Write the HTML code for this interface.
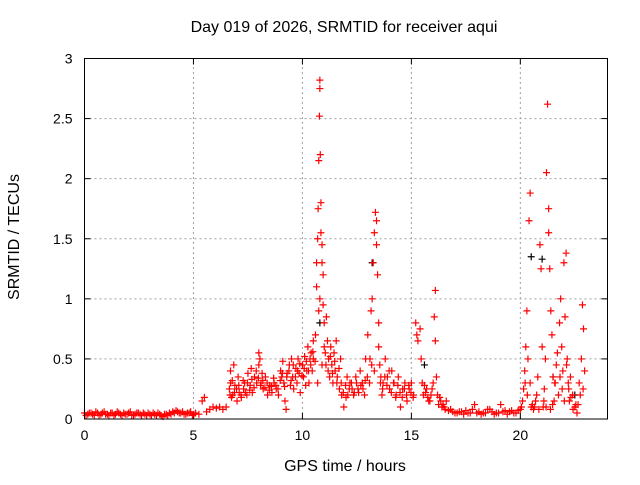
<!DOCTYPE html>
<html><head><meta charset="utf-8"><style>
body{margin:0;background:#fff;}
svg text{font-family:"Liberation Sans",sans-serif;font-size:14px;fill:#000;}
svg text.big{font-size:16px;}
</style></head><body>
<svg id="chart" width="640" height="480">
<text class="big" x="344" y="32" text-anchor="middle">Day 019 of 2026, SRMTID for receiver aqui</text>
<text class="big" x="345" y="471" text-anchor="middle">GPS time / hours</text>
<text class="big" transform="translate(19,237) rotate(-90)" text-anchor="middle">SRMTID / TECUs</text>
<g id="grid"></g><g id="ticks"></g><g id="marks"></g>
<rect x="84.5" y="58.5" width="523" height="360.5" fill="none" stroke="#000"/>
</svg>
<script>
const xTicks=[0,5,10,15,20];
const yTicks=[0,0.5,1,1.5,2,2.5,3];
const yTickLabels=["0","0.5","1","1.5","2","2.5","3"];
const hours=[0,.15,.3,.45,.6,.75,.9,1.05,1.2,1.35,1.5,1.65,1.8,1.95,2.1,2.25,2.4,2.55,2.7,2.85,3.0,3.15,3.3,3.45,3.6,3.75,3.9,4.05,4.2,4.35,4.5,4.65,4.8,4.95,5.1,5.25,5.4,5.5,5.6,5.75,5.9,6.05,6.2,6.35,6.5,
6.65,6.7,6.7,6.75,6.8,6.85,6.9,7.0,7.05,7.1,7.2,7.3,7.35,7.45,7.5,7.6,7.65,7.7,7.8,7.9,8.0,8.0,8.05,8.1,8.15,8.2,8.3,8.4,8.5,8.6,8.7,8.8,8.9,9.0,9.05,9.1,9.15,9.2,9.25,9.3,9.4,9.45,9.5,9.55,9.6,9.7,9.75,9.8,9.85,9.9,10.0,10.05,10.1,10.15,10.2,10.25,10.3,10.35,10.4,10.45,10.5,10.5,
10.6,10.65,10.65,10.7,10.72,10.75,10.78,10.8,10.8,10.82,10.85,10.85,10.8,10.75,10.9,10.9,10.95,10.95,11.0,11.0,10.7,10.9,11.05,11.1,11.15,11.2,11.25,11.3,11.35,11.4,11.45,11.5,11.55,11.6,11.7,11.75,11.8,11.9,12.0,12.05,12.15,12.25,12.35,12.45,12.55,12.65,12.75,12.85,12.9,
13.0,13.1,13.15,13.2,13.25,13.3,13.35,13.4,13.4,13.45,13.5,13.5,13.3,13.55,13.6,13.65,13.7,13.8,13.9,14.0,14.1,14.2,14.3,14.4,14.5,14.6,14.7,14.8,14.9,15.0,15.1,15.2,15.25,15.3,15.4,15.45,15.5,15.55,15.7,15.8,15.9,16.0,16.05,16.1,16.1,16.15,16.2,16.35,16.5,16.6,16.8,17.0,17.2,17.4,17.6,17.8,17.9,18.0,18.2,18.4,18.6,18.8,19.0,19.1,19.2,19.4,19.6,19.8,20.0,
20.1,20.15,20.2,20.25,20.3,20.35,20.4,20.45,20.45,20.5,20.6,20.7,20.8,20.9,20.95,21.0,21.05,21.1,21.15,21.2,21.25,21.3,21.3,21.35,21.4,21.45,21.5,21.55,21.6,21.7,21.8,21.85,21.9,21.95,22.0,22.05,22.1,22.15,22.2,22.25,22.3,22.4,22.5,22.6,22.7,22.8,22.85,22.9,22.95,
0.07,0.22,0.37,0.52,0.67,0.82,0.97,1.12,1.27,1.42,1.57,1.72,1.87,2.02,2.17,2.32,2.47,2.62,2.77,2.92,3.07,3.22,3.37,3.52,3.67,3.82,3.97,4.12,4.27,4.42,4.57,4.72,4.87,5.02,
6.68,6.78,6.88,6.98,7.08,7.18,7.28,7.38,7.48,7.58,7.68,7.78,7.88,7.98,8.08,8.18,8.28,8.38,8.48,8.58,8.68,8.78,8.88,8.98,9.08,9.18,9.28,9.38,9.48,9.58,9.68,9.78,9.88,9.98,10.08,10.18,10.28,10.38,10.48,10.58,
11.08,11.18,11.28,11.38,11.48,11.58,11.68,11.78,11.88,11.98,12.08,12.18,12.28,12.38,12.48,12.58,12.68,12.78,12.88,12.98,13.08,13.18,13.58,13.68,13.78,13.88,13.98,14.08,14.18,14.28,14.38,14.48,14.58,14.68,14.78,14.88,14.98,15.08,15.6,15.65,15.75,15.85,15.95,16.25,16.3,16.4,16.45,16.55,16.7,16.9,17.1,17.3,17.5,17.7,18.1,18.3,18.5,18.7,18.9,19.3,19.5,19.7,19.9,
20.05,20.22,20.32,20.55,20.65,20.75,20.85,21.08,21.18,21.38,21.48,21.58,21.65,21.75,21.82,21.92,22.02,22.12,22.22,22.32,22.42,22.55,22.65,22.75,22.88];
const values=[.05,.04,.05,.03,.05,.04,.06,.04,.05,.03,.06,.04,.05,.04,.06,.03,.05,.04,.05,.03,.04,.05,.03,.04,.02,.04,.05,.06,.07,.05,.06,.04,.05,.03,.05,.04,.15,.18,.06,.08,.10,.09,.10,.08,.10,
.25,.4,.3,.18,.2,.45,.28,.15,.35,.22,.18,.25,.3,.2,.38,.28,.42,.22,.35,.3,.55,.45,.5,.3,.38,.25,.35,.2,.28,.22,.3,.25,.2,.4,.35,.48,.3,.15,.08,.38,.45,.28,.5,.35,.25,.42,.3,.5,.38,.22,.45,.35,.52,.28,.4,.6,.3,.5,.55,.4,.65,.5,
.7,1.1,1.3,1.5,1.75,2.15,2.52,2.75,2.82,2.2,1.8,1.55,1.0,.9,1.45,1.3,1.2,.95,.8,.6,.3,.45,.55,.85,.65,.5,.35,.6,.45,.3,.55,.4,.65,.35,.25,.5,.2,.1,.18,.35,.25,.3,.2,.35,.25,.4,.3,.2,.5,
.7,.5,.9,1.0,1.3,1.55,1.72,1.65,1.45,1.2,.8,.6,.4,.45,.35,.2,.3,.5,.35,.25,.4,.3,.2,.35,.1,.25,.3,.15,.25,.3,.2,.8,.7,.65,.75,.5,.3,.2,.25,.15,.2,.3,.85,1.07,.65,.35,.2,.15,.1,.15,.08,.05,.06,.04,.05,.08,.12,.05,.04,.05,.08,.04,.05,.12,.06,.04,.07,.05,.08,
.15,.25,.4,.6,.9,.5,1.65,1.88,.3,.1,.08,.15,.35,1.45,1.25,.6,.1,.25,.5,2.05,2.62,1.75,1.55,1.25,.9,.7,.35,.15,.3,.55,.8,1.0,.6,.4,1.3,.85,1.38,.5,.3,.15,.35,.2,.1,.05,.3,.5,.95,.75,.4,
.03,.05,.04,.06,.03,.05,.04,.03,.05,.04,.05,.03,.04,.05,.03,.04,.05,.03,.04,.05,.03,.04,.05,.03,.04,.03,.04,.05,.06,.05,.04,.05,.06,.04,
.2,.32,.22,.25,.28,.2,.32,.22,.3,.24,.33,.26,.4,.34,.28,.32,.26,.3,.24,.27,.34,.28,.25,.32,.38,.27,.35,.4,.32,.45,.35,.4,.46,.36,.42,.48,.4,.45,.56,.48,
.45,.4,.52,.38,.48,.3,.42,.3,.22,.28,.2,.3,.25,.22,.3,.22,.28,.25,.32,.35,.3,.45,.3,.25,.35,.28,.4,.22,.3,.18,.28,.22,.18,.25,.2,.28,.22,.18,.28,.22,.18,.15,.25,.12,.18,.1,.12,.08,.07,.06,.05,.06,.07,.05,.06,.05,.08,.06,.05,.07,.06,.05,.07,
.1,.3,.2,.12,.1,.2,.08,.15,.1,.08,.12,.3,.45,.2,.35,.25,.15,.45,.25,.18,.08,.12,.12,.2,.25];
const hours2=[10.8,13.2,20.5,21.0,21.5,22.5,15.6];
const values2=[.8,1.3,1.35,1.33,.35,.2,.45];
const X0=84.5,X1=607.5,Y0=419,Y1=58.5;
const xs=h=>X0+h/24*(X1-X0);
const ys=v=>Y0-v/3*(Y0-Y1);
const NS="http://www.w3.org/2000/svg";
const grid=document.getElementById('grid'),tk=document.getElementById('ticks'),mk=document.getElementById('marks');
function mkEl(t,a,p){const e=document.createElementNS(NS,t);for(const k in a)e.setAttribute(k,a[k]);p.appendChild(e);return e;}
xTicks.forEach(t=>{const x=xs(t);
 if(t>0){const g=mkEl('line',{x1:x,x2:x,y1:Y0,y2:Y1,stroke:'#a0a0a0','stroke-dasharray':'2,3'},grid);
 
 }
 mkEl('line',{x1:x,x2:x,y1:Y0,y2:Y0-6,stroke:'#000'},tk);
 mkEl('line',{x1:x,x2:x,y1:Y1,y2:Y1+6,stroke:'#000'},tk);
 const l=mkEl('text',{x:x,y:Y0+21,'text-anchor':'middle'},tk);l.textContent=t;
 
 });
yTicks.forEach((t,i)=>{const y=ys(t);
 if(t>0&&t<3){const g=mkEl('line',{x1:X0,x2:X1,y1:y,y2:y,stroke:'#a0a0a0','stroke-dasharray':'2,3'},grid);
 
 }
 mkEl('line',{x1:X0,x2:X0+6,y1:y,y2:y,stroke:'#000'},tk);
 mkEl('line',{x1:X1,x2:X1-6,y1:y,y2:y,stroke:'#000'},tk);
 const l=mkEl('text',{x:X0-12,y:y+5,'text-anchor':'end'},tk);l.textContent=yTickLabels[i];
 
 });
function plus(h,v,c,name){const x=xs(h),y=ys(v);
 const p=mkEl('path',{d:`M${x-3.5},${y}H${x+3.5}M${x},${y-3.5}V${y+3.5}`,stroke:c,'stroke-width':1.2,fill:'none'},mk);
 
 }
hours2.forEach((h,i)=>plus(h,values2[i],'#000','point-black'));
hours.forEach((h,i)=>plus(h,values[i],'#f00','point-srmtid'));
</script>
</body></html>
